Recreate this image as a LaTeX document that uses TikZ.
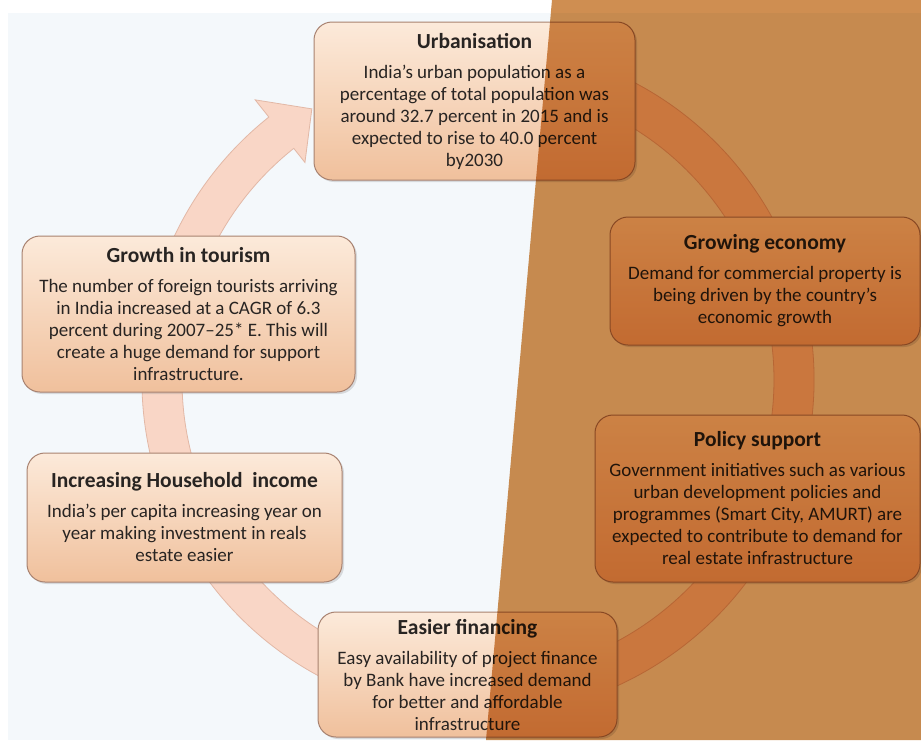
\documentclass[tikz,border=0pt]{standalone}
\usepackage{fontspec}
\setmainfont{Carlito}
\usetikzlibrary{shadows}
\usetikzlibrary{positioning}
\definecolor{bgblue}{RGB}{244,248,251}
\definecolor{ringfill}{RGB}{249,214,198}
\definecolor{ringline}{RGB}{226,184,166}
\definecolor{boxtop}{RGB}{252,234,218}
\definecolor{boxbottom}{RGB}{240,192,156}
\definecolor{boxline}{RGB}{168,130,112}
\definecolor{textgray}{RGB}{40,36,34}
\definecolor{overlaybrown}{RGB}{207,142,81}
\newcommand{\boxtitle}[1]{{\fontsize{21.5}{26}\selectfont\bfseries #1}\\[8pt]}

\begin{document}
\begin{tikzpicture}[x=1pt,y=-1pt,
    box node/.style 2 args={rectangle,rounded corners=18pt,draw=boxline,line width=1pt,
      top color=boxtop,bottom color=boxbottom,minimum width=#1,minimum height=#2,
      inner sep=0pt,align=center,text=textgray,font=\fontsize{19}{22}\selectfont,
      drop shadow={opacity=0.25,shadow xshift=2pt,shadow yshift=-2pt}},
    ring/.style={fill=ringfill,draw=ringline,line width=0.8pt}]
   \useasboundingbox (0,0) rectangle (921,740);
   \fill[white] (0,0) rectangle (921,740);
   \fill[bgblue] (8,13) rectangle (921,740);
   \begin{scope}
     % circular arrow behind the boxes
     \coordinate (o) at (478,380);
     \path[ring] ([shift={(o)}]-75:336) arc[start angle=-75,end angle=231.5,radius=336]
        -- ([shift={(o)}]231.5:358) -- ([shift={(o)}]238.5:318) -- ([shift={(o)}]231.5:278)
        -- ([shift={(o)}]231.5:296) arc[start angle=231.5,end angle=-75,radius=296] -- cycle;

     \node[box node={321}{158}] (u) at (474.5,101) {\boxtitle{Urbanisation}
        India’s urban population as a\\percentage of total population was\\
        around 32.7 percent in 2015 and is\\expected to rise to 40.0 percent\\by2030};
     \node[box node={310}{128}] (e) at (765,281) {\boxtitle{Growing economy}
        Demand for commercial property is\\being driven by the country’s\\economic growth};
     \node[box node={325}{167}] (p) at (757.5,498.5) {\boxtitle{Policy support}
        Government initiatives such as various\\urban development policies and\\
        programmes (Smart City, AMURT) are\\expected to contribute to demand for\\
        real estate infrastructure};
     \node[box node={299}{125}] (f) at (467.5,674.5) {\boxtitle{Easier financing}
        Easy availability of project finance\\by Bank have increased demand\\
        for better and affordable\\infrastructure};
     \node[box node={315}{129}] (h) at (184.5,517.5) {\boxtitle{Increasing Household\ \ income}
        India’s per capita increasing year on\\year making investment in reals\\estate easier};
     \node[box node={333}{156}] (t) at (188.5,314) {\boxtitle{Growth in tourism}
        The number of foreign tourists arriving\\in India increased at a CAGR of 6.3\\
        percent during 2007–25* E. This will\\create a huge demand for support\\
        infrastructure.};
   \end{scope}
   % brown sheet over the right side
   \fill[overlaybrown,blend mode=multiply] (552,0) -- (921,0) -- (921,740) -- (486,740) -- cycle;
\end{tikzpicture}
\end{document}
